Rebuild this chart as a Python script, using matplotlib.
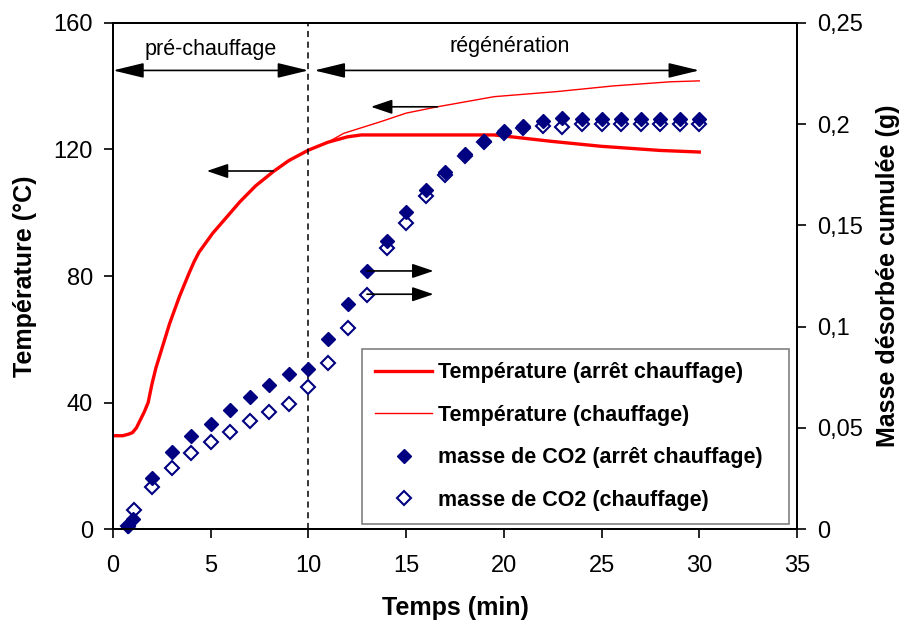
import numpy as np
import matplotlib.pyplot as plt
from matplotlib.lines import Line2D
from matplotlib.ticker import FixedLocator, FuncFormatter

plt.rcParams['font.family'] = ['Liberation Sans', 'DejaVu Sans']

# Température (arrêt chauffage) : temps (min), T (°C)
t_arret = [0, 0.5, 0.8, 1.0, 1.2, 1.4, 1.6, 1.8, 2.0, 2.2, 2.5, 2.9, 3.4, 3.9, 4.15,
           4.4, 5.1, 5.8, 6.5, 7.3, 8.2, 9.0, 10.0, 11.0, 12.0, 12.7, 19.5, 20.4,
           22.4, 25.0, 28.0, 30.0]
T_arret = [29.5, 29.5, 30, 30.5, 32, 34.5, 37, 40, 46, 51, 57, 65, 73.5, 81, 84.5,
           87.5, 93.5, 98.5, 103.5, 108.5, 113, 116.5, 119.8, 122.3, 124, 124.6,
           124.6, 124, 122.6, 121, 119.7, 119.2]

# Température (chauffage)
t_chauf = [0, 0.5, 0.8, 1.0, 1.2, 1.4, 1.6, 1.8, 2.0, 2.2, 2.5, 2.9, 3.4, 3.9, 4.15,
           4.4, 5.1, 5.8, 6.5, 7.3, 8.2, 9.0, 10.0, 11.0, 11.8, 13.7, 15.0, 16.6,
           19.5, 22.7, 25.6, 28.5, 30.0]
T_chauf = [29.5, 29.5, 30, 30.5, 32, 34.5, 37, 40, 46, 51, 57, 65, 73.5, 81, 84.5,
           87.5, 93.5, 98.5, 103.5, 108.5, 113, 116.5, 119.8, 122.3, 125.1, 128.8,
           131.5, 133.5, 136.7, 138.3, 140.1, 141.4, 141.7]

# masse de CO2 cumulée (g)
t_m_arret = [0.75, 1.0, 2, 3, 4, 5, 6, 7, 8, 9, 10, 11, 12, 13, 14, 15, 16, 17, 18,
             19, 20, 21, 22, 23, 24, 25, 26, 27, 28, 29, 30]
m_arret = [0.0015, 0.005, 0.025, 0.038, 0.046, 0.052, 0.059, 0.065, 0.071, 0.0765,
           0.079, 0.094, 0.111, 0.1275, 0.1425, 0.1565, 0.1675, 0.1765, 0.1855,
           0.1915, 0.1966, 0.1991, 0.2017, 0.2029, 0.2024, 0.2024, 0.2024, 0.2024,
           0.2024, 0.2024, 0.2024]

t_m_chauf = [0.75, 1.1, 2, 3, 4, 5, 6, 7, 8, 9, 10, 11, 12, 13, 14, 15, 16, 17, 18,
             19, 20, 21, 22, 23, 24, 25, 26, 27, 28, 29, 30]
m_chauf = [0.0015, 0.0092, 0.021, 0.030, 0.0375, 0.043, 0.048, 0.0535, 0.058, 0.062,
           0.070, 0.082, 0.0995, 0.1155, 0.139, 0.151, 0.1645, 0.175, 0.1845, 0.191,
           0.1955, 0.198, 0.199, 0.1988, 0.200, 0.200, 0.200, 0.200, 0.200, 0.200, 0.200]

rouge = '#ff0000'
bleu = '#000080'

fig = plt.figure(figsize=(9.06, 6.28), dpi=100)
ax1 = fig.add_axes([0.1247, 0.1576, 0.755, 0.8058])
ax2 = ax1.twinx()

ax1.plot(t_arret, T_arret, color=rouge, lw=2.4)
ax1.plot(t_chauf, T_chauf, color=rouge, lw=1.0)
ax1.axvline(10, color='black', ls=(0, (4, 3)), lw=1.1)

ax2.plot(t_m_chauf, m_chauf, ls='none', marker='D', ms=7, mfc='white', mec=bleu,
         mew=1.5, clip_on=False)
ax2.plot(t_m_arret, m_arret, ls='none', marker='D', ms=7.6, mfc=bleu, mec=bleu,
         clip_on=False)

ax1.set_xlim(0, 35)
ax1.set_ylim(0, 160)
ax2.set_ylim(0, 0.25)
ax1.set_xticks(range(0, 36, 5))
ax1.set_yticks(range(0, 161, 40))
ax2.yaxis.set_major_locator(FixedLocator([0, 0.05, 0.1, 0.15, 0.2, 0.25]))
ax2.yaxis.set_major_formatter(FuncFormatter(lambda v, p: ('%g' % round(v, 2)).replace('.', ',')))

for ax in (ax1, ax2):
    for s in ax.spines.values():
        s.set_linewidth(1.4)
    ax.tick_params(direction='out', length=6.5, width=1.2, labelsize=17, pad=8)
ax1.tick_params(axis='x', pad=12)

ax1.set_xlabel('Temps (min)', fontsize=18, fontweight='bold', labelpad=14)
ax1.set_ylabel('Température (°C)', fontsize=18, fontweight='bold', labelpad=12)
ax2.set_ylabel('Masse désorbée cumulée (g)', fontsize=18, fontweight='bold', labelpad=9)

# Flèches des phases
phase = dict(arrowstyle='<|-|>,head_length=0.95,head_width=0.23', color='black',
             lw=1.2, shrinkA=0, shrinkB=0, mutation_scale=20)
ax1.annotate('', xy=(0, 145), xytext=(10, 145), arrowprops=phase)
ax1.annotate('', xy=(10.3, 145), xytext=(30, 145), arrowprops=phase)
ax1.text(5, 151.5, 'pré-chauffage', ha='center', va='center', fontsize=15.5)
ax1.text(20.3, 152.5, 'régénération', ha='center', va='center', fontsize=15.5)

# Flèches vers l'axe correspondant
fl = dict(arrowstyle='-|>,head_length=0.65,head_width=0.22', color='black',
          lw=1.2, shrinkA=0, shrinkB=0, mutation_scale=20)
ax1.annotate('', xy=(4.8, 113.2), xytext=(8.2, 113.2), arrowprops=fl)
ax1.annotate('', xy=(13.2, 133.5), xytext=(16.6, 133.5), arrowprops=fl)
ax2.annotate('', xy=(16.4, 0.1275), xytext=(13, 0.1275), arrowprops=fl)
ax2.annotate('', xy=(16.4, 0.116), xytext=(13, 0.116), arrowprops=fl)

handles = [
    Line2D([], [], color=rouge, lw=2.4),
    Line2D([], [], color=rouge, lw=1.0),
    Line2D([], [], ls='none', marker='D', ms=7.6, mfc=bleu, mec=bleu),
    Line2D([], [], ls='none', marker='D', ms=7, mfc='white', mec=bleu, mew=1.5),
]
labels = ['Température (arrêt chauffage)', 'Température (chauffage)',
          'masse de CO2 (arrêt chauffage)', 'masse de CO2 (chauffage)']
leg = ax2.legend(handles, labels, loc='lower left', mode='expand',
                 bbox_to_anchor=(0.364, 0.0099, 0.624, 0.346),
                 borderaxespad=0, fancybox=False, framealpha=1, edgecolor='#808080',
                 prop={'weight': 'bold', 'size': 15.5}, handlelength=2.65,
                 labelspacing=1.0, borderpad=0.62, handletextpad=0.25)
leg.get_frame().set_linewidth(1.2)

fig.savefig('out.png', dpi=100)
